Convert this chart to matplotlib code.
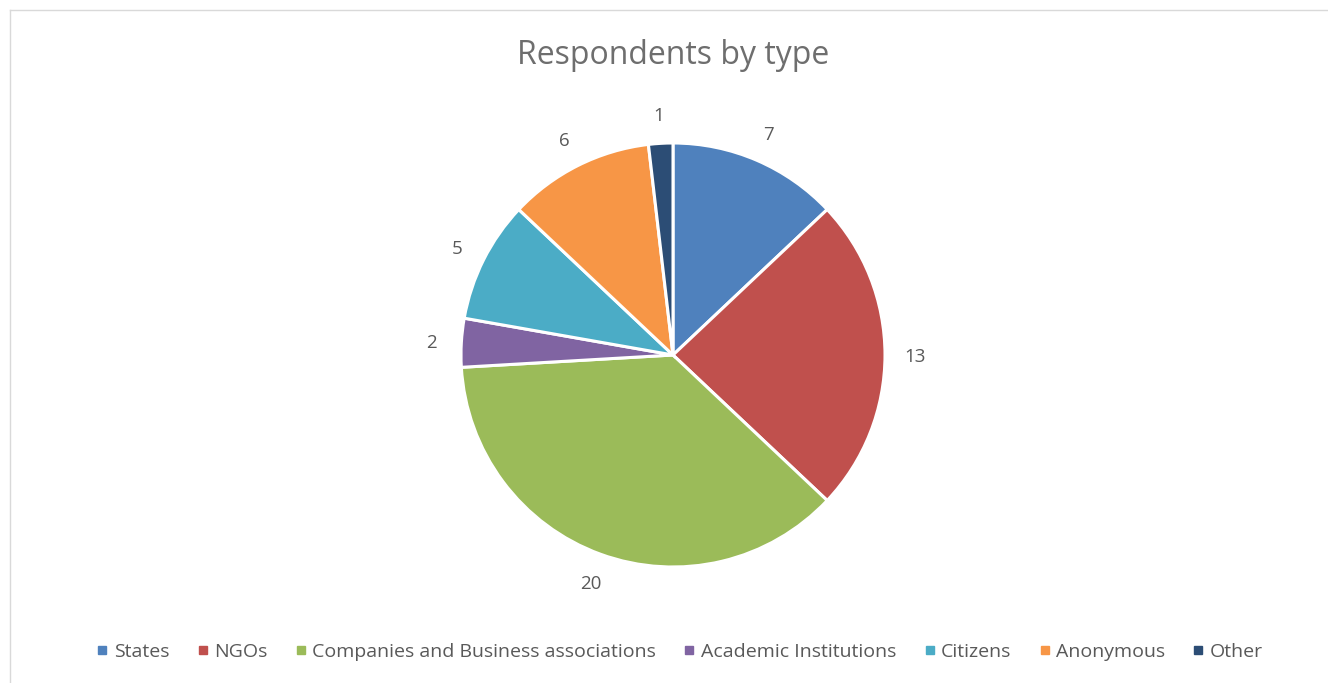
import matplotlib
matplotlib.use('Agg')
import matplotlib.pyplot as plt
from matplotlib.lines import Line2D

# respondents by type
categories = ['States', 'NGOs', 'Companies and Business associations',
              'Academic Institutions', 'Citizens', 'Anonymous', 'Other']
counts = [7, 13, 20, 2, 5, 6, 1]
colors = ['#4F81BD', '#C0504D', '#9BBB59', '#8064A2', '#4BACC6', '#F79646', '#2C4D75']

plt.rcParams['font.family'] = ['Open Sans', 'DejaVu Sans']
W, H = 1328, 683
fig = plt.figure(figsize=(W / 100, H / 100), dpi=100)

# pie centre and radius in pixels
cx, cy, r = 673, 355, 212
ax = fig.add_axes([(cx - r) / W, (H - cy - r) / H, 2 * r / W, 2 * r / H])
wedges, texts = ax.pie(counts, colors=colors, startangle=90, counterclock=False,
                       labels=[str(c) for c in counts], labeldistance=1.14,
                       wedgeprops=dict(edgecolor='white', linewidth=2.2),
                       textprops=dict(color='#595959', fontsize=13.5))
for t in texts:
    t.set_ha('center')
    t.set_va('center_baseline')
ax.set_xlim(-1, 1)
ax.set_ylim(-1, 1)
ax.axis('off')

fig.text(673 / W, 1 - 55 / H, 'Respondents by type', ha='center', va='center',
         fontsize=23, color='#6E6E6E')

handles = [Line2D([], [], marker='s', linestyle='none', markersize=6,
                  markerfacecolor=c, markeredgecolor=c) for c in colors]
fig.legend(handles, categories, loc='center', bbox_to_anchor=(678 / W, 1 - 652 / H),
           ncol=len(categories), frameon=False, fontsize=14, handletextpad=0.1,
           columnspacing=1.2, labelcolor='#595959', handlelength=1.0)

# chart frame: only the top and left edges are visible
fig.add_artist(Line2D([10 / W, 1], [1 - 10 / H, 1 - 10 / H], color='#D9D9D9', lw=1))
fig.add_artist(Line2D([10 / W, 10 / W], [0, 1 - 10 / H], color='#D9D9D9', lw=1))

fig.savefig('out.png', dpi=100)
